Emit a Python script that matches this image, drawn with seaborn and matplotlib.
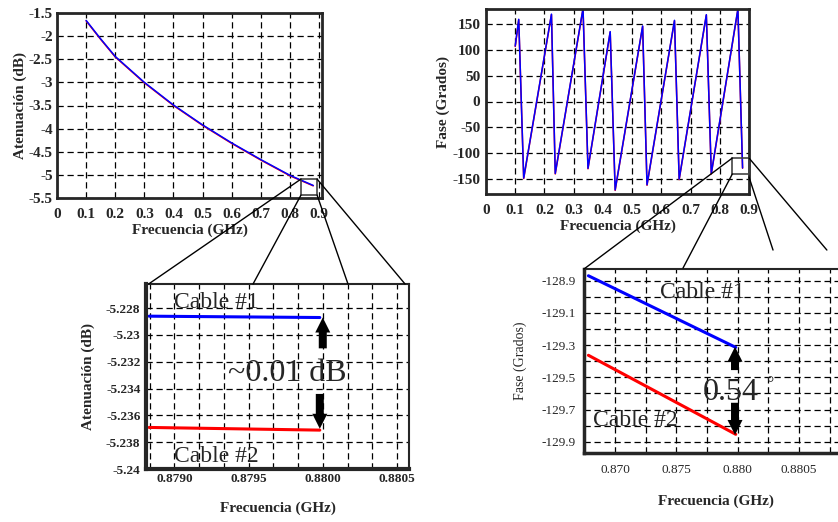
import numpy as np
import pandas as pd
import matplotlib
matplotlib.use("Agg")
import matplotlib.pyplot as plt
import seaborn as sns
from matplotlib.patches import Rectangle, ConnectionPatch

# ---------------- data ----------------
freq_att = [0.10, 0.15, 0.20, 0.30, 0.40, 0.50, 0.60, 0.70, 0.80, 0.88]
att_cable1 = [-1.66, -2.06, -2.44, -3.00, -3.49, -3.92, -4.31, -4.67, -5.01, -5.229]
att_cable2 = [-1.67, -2.07, -2.45, -3.01, -3.50, -3.93, -4.32, -4.68, -5.02, -5.237]

freq_phase = [0.100, 0.112, 0.129, 0.224, 0.237, 0.332, 0.349, 0.425, 0.442,
              0.536, 0.551, 0.645, 0.661, 0.754, 0.771, 0.862, 0.878]
phase_cable1 = [108, 160, -149, 170, -140, 181, -130, 136, -172,
                147, -162, 158, -151, 169, -140, 180, -129.3]
phase_cable2 = [107, 159, -150, 169, -141, 180, -131, 135, -173,
                146, -163, 157, -152, 168, -141, 179, -129.85]

zoom_freq_att = [0.87883, 0.87998]
zoom_att_cable1 = [-5.2286, -5.2287]
zoom_att_cable2 = [-5.2369, -5.2371]

zoom_freq_phase = [0.86783, 0.87984]
zoom_phase_cable1 = [-128.869, -129.314]
zoom_phase_cable2 = [-129.363, -129.854]

top_xticks = [0, 0.1, 0.2, 0.3, 0.4, 0.5, 0.6, 0.7, 0.8, 0.9]
top_xlabels = ["0", "0.1", "0.2", "0.3", "0.4", "0.5", "0.6", "0.7", "0.8", "0.9"]
att_yticks = [-1.5, -2, -2.5, -3, -3.5, -4, -4.5, -5, -5.5]
att_ylabels = ["-1.5", "-2", "-2.5", "-3", "-3.5", "-4", "-4.5", "-5", "-5.5"]
phase_yticks = [150, 100, 50, 0, -50, -100, -150]
phase_ylabels = ["150", "100", "50", "0", "-50", "-100", "-150"]
zatt_xticks = [0.8790, 0.8795, 0.8800, 0.8805]
zatt_xlabels = ["0.8790", "0.8795", "0.8800", "0.8805"]
zatt_yticks = [-5.228, -5.230, -5.232, -5.234, -5.236, -5.238, -5.240]
zatt_ylabels = ["-5.228", "-5.23", "-5.232", "-5.234", "-5.236", "-5.238", "-5.24"]
zph_xticks = [0.870, 0.875, 0.880, 0.885]
zph_xlabels = ["0.870", "0.875", "0.880", "0.8805"]
zph_yticks = [-128.9, -129.1, -129.3, -129.5, -129.7, -129.9]
zph_ylabels = ["-128.9", "-129.1", "-129.3", "-129.5", "-129.7", "-129.9"]

# ---------------- style ----------------
sns.set_style("white")
plt.rcParams["font.family"] = ["Liberation Serif", "DejaVu Serif"]
plt.rcParams["axes.linewidth"] = 2.0

BLUE = "#0000ff"
RED = "#ff0000"
GRID = dict(color="black", linestyle=(0, (5, 3)), linewidth=0.9)

W, H = 838, 522
fig = plt.figure(figsize=(W / 100, H / 100), dpi=100)


def px_axes(l, t, r, b):
    return fig.add_axes([l / W, 1 - b / H, (r - l) / W, (b - t) / H])


axA = px_axes(57, 13, 322, 198)
axB = px_axes(486, 9, 749, 194)
axC = px_axes(146, 284, 409, 469)
axD = px_axes(584, 269, 848, 453)

# ---------- panel A : attenuation ----------
dfA = pd.DataFrame({"f": freq_att * 2,
                    "a": att_cable2 + att_cable1,
                    "cable": ["Cable #2"] * len(freq_att) + ["Cable #1"] * len(freq_att)})
sns.lineplot(data=dfA, x="f", y="a", hue="cable", palette={"Cable #2": RED, "Cable #1": BLUE},
             ax=axA, legend=False, linewidth=1.1, sort=False, estimator=None)
axA.set_xlim(0, 0.91)
axA.set_ylim(-5.5, -1.5)
axA.set_xticks(top_xticks, top_xlabels)
axA.set_yticks(att_yticks, att_ylabels)
axA.grid(True, **GRID)
axA.set_xlabel("Frecuencia (GHz)", fontsize=11, fontweight="bold", labelpad=2)
axA.set_ylabel("Atenuación (dB)", fontsize=11, fontweight="bold", labelpad=1)
axA.tick_params(axis="x", length=0, pad=7, labelsize=11)
axA.tick_params(axis="y", length=0, pad=3, labelsize=11)

# ---------- panel B : phase ----------
dfB = pd.DataFrame({"f": freq_phase * 2,
                    "p": phase_cable2 + phase_cable1,
                    "cable": ["Cable #2"] * len(freq_phase) + ["Cable #1"] * len(freq_phase)})
sns.lineplot(data=dfB, x="f", y="p", hue="cable", palette={"Cable #2": RED, "Cable #1": BLUE},
             ax=axB, legend=False, linewidth=1.1, sort=False, estimator=None)
axB.set_xlim(0, 0.9)
axB.set_ylim(-180, 180)
axB.set_xticks(top_xticks, top_xlabels)
axB.set_yticks(phase_yticks, phase_ylabels)
axB.grid(True, **GRID)
axB.set_xlabel("Frecuencia (GHz)", fontsize=11, fontweight="bold", labelpad=2)
axB.set_ylabel("Fase (Grados)", fontsize=11, fontweight="bold", labelpad=2)
axB.tick_params(axis="x", length=0, pad=7, labelsize=11)
axB.tick_params(axis="y", length=0, pad=4, labelsize=11)

for ax in (axA, axB):
    for lab in ax.get_xticklabels() + ax.get_yticklabels():
        lab.set_fontweight("bold")

# ---------- panel C : attenuation zoom ----------
dfC = pd.DataFrame({"f": zoom_freq_att * 2,
                    "a": zoom_att_cable1 + zoom_att_cable2,
                    "cable": ["Cable #1"] * 2 + ["Cable #2"] * 2})
sns.lineplot(data=dfC, x="f", y="a", hue="cable", palette={"Cable #1": BLUE, "Cable #2": RED},
             ax=axC, legend=False, linewidth=2.2, sort=False, estimator=None)
axC.set_xlim(0.878809, 0.880581)
axC.set_ylim(-5.240, -5.2262)
axC.set_xticks(zatt_xticks, zatt_xlabels)
axC.set_xticks(np.arange(0.8790 - 0.0005 / 3, 0.88058, 0.0005 / 3), minor=True)
axC.set_yticks(zatt_yticks, zatt_ylabels)
axC.grid(True, which="both", **GRID)
axC.set_xlabel("Frecuencia (GHz)", fontsize=11, fontweight="bold", labelpad=12)
axC.set_ylabel("Atenuación (dB)", fontsize=11, fontweight="bold", labelpad=8)
axC.tick_params(axis="x", which="both", length=0, pad=3, labelsize=9.5)
axC.tick_params(axis="y", length=0, pad=4, labelsize=9.5)
for lab in axC.get_xticklabels() + axC.get_yticklabels():
    lab.set_fontweight("bold")
axC.spines["left"].set_linewidth(3)
axC.spines["bottom"].set_linewidth(3)
axC.spines["top"].set_linewidth(1.5)
axC.spines["right"].set_linewidth(1.5)

axC.text(0.87928, -5.2280, "Cable #1", fontsize=17, ha="center", va="baseline")
axC.text(0.87928, -5.2395, "Cable #2", fontsize=17, ha="center", va="baseline")
axC.text(0.87976, -5.2334, "~0.01 dB", fontsize=23, ha="center", va="baseline")

ARROW = dict(arrowstyle="simple,head_length=0.45,head_width=0.45,tail_width=0.24",
             color="black", lw=0, shrinkA=0, shrinkB=0, mutation_scale=24)
axC.annotate("", xy=(0.88000, -5.2287), xytext=(0.88000, -5.2310), arrowprops=ARROW)
axC.annotate("", xy=(0.87998, -5.2370), xytext=(0.87998, -5.2344), arrowprops=ARROW)

# ---------- panel D : phase zoom ----------
dfD = pd.DataFrame({"f": zoom_freq_phase * 2,
                    "p": zoom_phase_cable1 + zoom_phase_cable2,
                    "cable": ["Cable #1"] * 2 + ["Cable #2"] * 2})
sns.lineplot(data=dfD, x="f", y="p", hue="cable", palette={"Cable #1": BLUE, "Cable #2": RED},
             ax=axD, legend=False, linewidth=2.2, sort=False, estimator=None)
axD.set_xlim(0.86747, 0.88899)
axD.set_ylim(-129.97, -128.827)
axD.set_xticks(zph_xticks, zph_xlabels)
axD.set_xticks(np.arange(0.8675, 0.889, 0.0025), minor=True)
axD.set_yticks(zph_yticks, zph_ylabels)
axD.set_yticks(np.arange(-129.9, -128.85, 0.1), minor=True)
axD.grid(True, which="both", **GRID)
axD.set_xlabel("Frecuencia (GHz)", fontsize=11, fontweight="bold", labelpad=13)
axD.set_ylabel("Fase (Grados)", fontsize=10, labelpad=10)
axD.tick_params(axis="x", which="both", length=0, pad=8, labelsize=9.5)
axD.tick_params(axis="y", which="both", length=0, pad=6, labelsize=9.5)
axD.spines["left"].set_linewidth(2.5)
axD.spines["bottom"].set_linewidth(2.5)
axD.spines["top"].set_linewidth(1.5)

axD.text(0.87713, -129.005, "Cable #1", fontsize=17, ha="center", va="baseline")
axD.text(0.87167, -129.80, "Cable #2", fontsize=17, ha="center", va="baseline")
axD.text(0.87717, -129.642, "0.54", fontsize=23, ha="left", va="baseline")
axD.text(0.88264, -129.49, "°", fontsize=13, ha="center", va="top")
axD.annotate("", xy=(0.87978, -129.31), xytext=(0.87978, -129.455), arrowprops=ARROW)
axD.annotate("", xy=(0.87978, -129.858), xytext=(0.87978, -129.658), arrowprops=ARROW)

# ---------- zoom boxes and connectors ----------
boxA = (0.838, -5.435, 0.893, -5.09)
axA.add_patch(Rectangle((boxA[0], boxA[1]), boxA[2] - boxA[0], boxA[3] - boxA[1],
                        fill=False, edgecolor="#444444", linewidth=1.2, clip_on=False, zorder=5))
boxB = (0.843, -141.0, 0.9, -110.0)
axB.add_patch(Rectangle((boxB[0], boxB[1]), boxB[2] - boxB[0], boxB[3] - boxB[1],
                        fill=False, edgecolor="#444444", linewidth=1.2, clip_on=False, zorder=5))


def connect(axa, pa, axb, pb):
    cp = ConnectionPatch(xyA=pa, coordsA=axa.transData, xyB=pb, coordsB=axb.transAxes,
                         color="black", linewidth=1.0)
    fig.add_artist(cp)


connect(axA, (boxA[0], boxA[3]), axC, (0.01, 1.0))
connect(axA, (boxA[0], boxA[1]), axC, (0.407, 1.0))
connect(axA, (boxA[2], boxA[1]), axC, (0.768, 1.0))
connect(axA, (boxA[2], boxA[3]), axC, (0.985, 1.0))

connect(axB, (boxB[0], boxB[3]), axD, (0.0, 1.0))
connect(axB, (boxB[0], boxB[1]), axD, (0.375, 1.005))
connect(axB, (boxB[2], boxB[1] - 6), axD, (0.716, 1.103))
connect(axB, (boxB[2], boxB[3]), axD, (0.920, 1.103))

fig.savefig("out.png", dpi=100)
